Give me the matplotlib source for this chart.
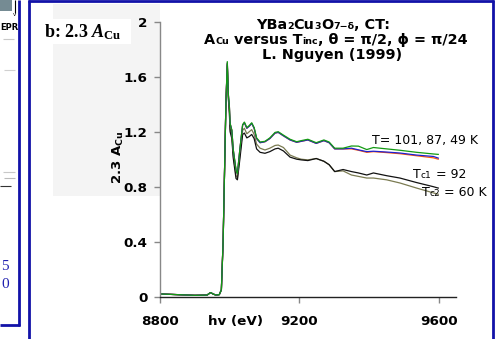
import matplotlib
matplotlib.use("Agg")
import matplotlib.pyplot as plt
from matplotlib.lines import Line2D
from matplotlib.patches import Rectangle
from matplotlib.offsetbox import TextArea, HPacker, AnnotationBbox

plt.rcParams['mathtext.fontset'] = 'custom'
plt.rcParams['mathtext.rm'] = 'Liberation Serif:bold'
plt.rcParams['mathtext.bf'] = 'Liberation Serif:bold'
plt.rcParams['mathtext.it'] = 'Liberation Serif:bold:italic'

# ---------------- data ----------------
energy = [8800, 8850, 8900, 8935, 8945, 8952, 8960, 8970, 8976, 8981, 8985, 8989,
          8993, 8996, 8999, 9001, 9006, 9010, 9018, 9022, 9029, 9037, 9042, 9049,
          9056, 9063, 9070, 9077, 9087, 9101, 9115, 9130, 9139, 9154, 9173, 9192,
          9205, 9224, 9248, 9270, 9285, 9301, 9325, 9349, 9369, 9393, 9412, 9450,
          9488, 9536, 9584, 9598]

a_87K = [0.02, 0.015, 0.01, 0.012, 0.03, 0.02, 0.012, 0.015, 0.05, 0.40, 0.90, 1.40,
         1.70, 1.47, 1.38, 1.26, 1.21, 1.07, 0.92, 0.895, 1.07, 1.25, 1.265, 1.225,
         1.24, 1.26, 1.225, 1.15, 1.12, 1.127, 1.15, 1.19, 1.195, 1.17, 1.14, 1.123,
         1.13, 1.14, 1.115, 1.135, 1.12, 1.075, 1.075, 1.075, 1.065, 1.05, 1.055, 1.048,
         1.04, 1.025, 1.01, 1.0]

a_101K = [0.02, 0.015, 0.01, 0.012, 0.03, 0.02, 0.012, 0.015, 0.05, 0.40, 0.90, 1.40,
          1.70, 1.47, 1.38, 1.26, 1.21, 1.07, 0.92, 0.895, 1.07, 1.25, 1.265, 1.225,
          1.24, 1.26, 1.225, 1.15, 1.12, 1.127, 1.15, 1.19, 1.195, 1.17, 1.14, 1.123,
          1.13, 1.14, 1.115, 1.135, 1.12, 1.075, 1.075, 1.08, 1.068, 1.055, 1.058, 1.052,
          1.045, 1.03, 1.02, 1.008]

a_49K = [0.02, 0.015, 0.01, 0.012, 0.03, 0.02, 0.012, 0.015, 0.05, 0.40, 0.90, 1.40,
         1.71, 1.47, 1.38, 1.26, 1.21, 1.07, 0.92, 0.895, 1.07, 1.25, 1.27, 1.23,
         1.245, 1.265, 1.23, 1.155, 1.125, 1.13, 1.155, 1.195, 1.2, 1.175, 1.145, 1.127,
         1.135, 1.145, 1.12, 1.14, 1.125, 1.08, 1.08, 1.096, 1.095, 1.07, 1.085, 1.075,
         1.065, 1.05, 1.038, 1.035]

a_Tc1_92K = [0.02, 0.015, 0.01, 0.012, 0.03, 0.02, 0.012, 0.015, 0.05, 0.40, 0.90, 1.40,
             1.69, 1.44, 1.33, 1.20, 1.15, 1.01, 0.86, 0.85, 1.0, 1.18, 1.19, 1.155,
             1.165, 1.18, 1.15, 1.075, 1.05, 1.043, 1.055, 1.075, 1.08, 1.06, 1.015, 1.0,
             0.995, 0.99, 1.005, 0.985, 0.96, 0.91, 0.925, 0.91, 0.9, 0.885, 0.9, 0.88,
             0.863, 0.83, 0.80, 0.79]

a_Tc2_60K = [0.02, 0.015, 0.01, 0.012, 0.03, 0.02, 0.012, 0.015, 0.05, 0.40, 0.90, 1.40,
             1.68, 1.45, 1.35, 1.22, 1.17, 1.03, 0.88, 0.865, 1.03, 1.21, 1.225, 1.185,
             1.20, 1.215, 1.18, 1.11, 1.08, 1.067, 1.08, 1.10, 1.103, 1.085, 1.03, 1.01,
             1.0, 0.995, 1.005, 0.985, 0.96, 0.91, 0.915, 0.885, 0.875, 0.863, 0.863, 0.85,
             0.827, 0.79, 0.755, 0.745]

x_ticks = [8800, 9200, 9600]
y_ticks = [0, 0.4, 0.8, 1.2, 1.6, 2]
y_tick_labels = ['0', '0.4', '0.8', '1.2', '1.6', '2']

# ---------------- figure ----------------
W, H = 499, 339
fig = plt.figure(figsize=(W / 100, H / 100), dpi=100)

def fx(x):
    return x / W

def fy(y):
    return 1 - y / H

# light gray background block behind left part
fig.add_artist(Rectangle((fx(53), fy(196)), (160 - 53) / W, (196 - 4) / H,
                         transform=fig.transFigure, facecolor='#f4f4f4',
                         edgecolor='none', zorder=0))

ax = fig.add_axes([fx(160), 1 - 296.7 / H, (456.4 - 160) / W, 275 / H])
ax.patch.set_alpha(0)

ax.plot(energy, a_Tc2_60K, color='#7b7b52', lw=0.9)
ax.plot(energy, a_Tc1_92K, color='#111111', lw=0.9)
ax.plot(energy, a_87K, color='#ff5a0a', lw=0.9)
ax.plot(energy, a_101K, color='#2020d0', lw=0.9)
ax.plot(energy, a_49K, color='#139a13', lw=0.9)

ax.set_xlim(8800, 9650)
ax.set_ylim(0, 2)
ax.set_xticks(x_ticks)
ax.set_xticklabels([str(v) for v in x_ticks], fontsize=9.7, fontweight='bold')
ax.set_yticks(y_ticks)
ax.set_yticklabels(y_tick_labels, fontsize=9.7, fontweight='bold')
for s in ['top', 'right']:
    ax.spines[s].set_visible(False)
ax.spines['left'].set_color('#888888')
ax.spines['left'].set_linewidth(1.0)
ax.spines['bottom'].set_color('#222222')
ax.spines['bottom'].set_linewidth(1.0)
ax.tick_params(axis='x', length=4, width=1, color='#888888', pad=9)
ax.tick_params(axis='y', length=4, width=1, color='#888888', pad=5)

fig.text(fx(118), fy(157), r'2.3 A$_{\mathbf{Cu}}$', rotation=90, ha='center', va='center',
         fontsize=9.5, fontweight='bold', family='DejaVu Sans', math_fontfamily='dejavusans')
fig.text(fx(235), fy(321), 'hv (eV)', ha='center', va='center', fontsize=9.7,
         fontweight='bold', family='DejaVu Sans')

# "b: 2.3 A_Cu" label in white box
fig.add_artist(Rectangle((fx(43), fy(44)), (131 - 43) / W, (44 - 19) / H,
                         transform=fig.transFigure, facecolor='white',
                         edgecolor='none', zorder=1))
fig.text(fx(44), fy(32), r'b: 2.3 $A_{\mathrm{Cu}}$', ha='left', va='center', fontsize=13,
         fontweight='bold', family='Liberation Serif', zorder=2)


def rich(parts, x, y, ha=0.5, weight='bold'):
    children = []
    for t, s in parts:
        children.append(TextArea(t, textprops=dict(fontsize=s, fontweight=weight,
                                                   family='DejaVu Sans', color='black')))
    box = HPacker(children=children, align='baseline', pad=0, sep=0)
    ab = AnnotationBbox(box, (fx(x), fy(y)), xycoords='figure fraction',
                        box_alignment=(ha, 0.5), frameon=False, pad=0,
                        annotation_clip=False)
    fig.add_artist(ab)

big, small = 10.4, 6.8
rich([('YBa', big), ('2', small), ('Cu', big), ('3', small), ('O', big),
      ('7\u2212\u03b4', small), (', CT:', big)], 323, 25)
rich([('A', big), ('Cu', small), (' versus T', big), ('inc', small),
      (', \u03b8 = \u03c0/2, \u03d5 = \u03c0/24', big)], 336, 40)
rich([('L. Nguyen (1999)', big)], 332, 55)

lab, labs = 9.0, 6.5
rich([('T= 101, 87, 49 K', lab)], 372, 140, ha=0.0, weight='normal')
rich([('T', lab), ('c1', labs), (' = 92', lab)], 413, 175, ha=0.0, weight='normal')
rich([('T', lab), ('c2', labs), (' = 60 K', lab)], 422, 192, ha=0.0, weight='normal')

# ---------------- slide frame decorations ----------------
blue = '#1212a8'

def fline(x0, y0, x1, y1, color, lw):
    fig.add_artist(Line2D([fx(x0), fx(x1)], [fy(y0), fy(y1)], transform=fig.transFigure,
                          color=color, lw=lw, solid_capstyle='butt'))

# main panel frame
fline(29.3, 0, 29.3, 339, blue, 2.0)
fline(28.3, 1.0, 494, 1.0, blue, 2.0)
fline(492.8, 0, 492.8, 339, blue, 2.0)
# left (cut) panel
fline(18.8, 0, 18.8, 325.5, blue, 2.0)
fline(0, 324.6, 19.8, 324.6, blue, 2.0)
# left panel bits
fig.add_artist(Rectangle((0, fy(11)), 12 / W, 11 / H, transform=fig.transFigure,
                         facecolor='#3a5a66', edgecolor='none', alpha=0.7))
fline(14.5, 0, 14.5, 13, 'black', 0.8)
fig.text(fx(14.5), fy(15), 'v', ha='center', va='center', fontsize=4, color='black')
fig.text(fx(0), fy(28), 'EPR', ha='left', va='center', fontsize=6,
         fontweight='bold', family='DejaVu Sans')
fline(3, 39, 14, 39, '#c8c8c8', 0.8)
fline(4, 70, 15, 70, '#d0d0d0', 0.8)
fline(3, 172, 15, 172, '#c8c8c8', 0.8)
fline(4, 178, 15, 178, '#bbbbbb', 0.8)
fline(0, 186, 11, 186, '#333333', 0.8)
fig.text(fx(1), fy(266), '5', ha='left', va='center', fontsize=11, color='#2020b0',
         family='Liberation Serif')
fig.text(fx(1), fy(285), '0', ha='left', va='center', fontsize=11, color='#2020b0',
         family='Liberation Serif')

fig.savefig('out.png', dpi=100)
